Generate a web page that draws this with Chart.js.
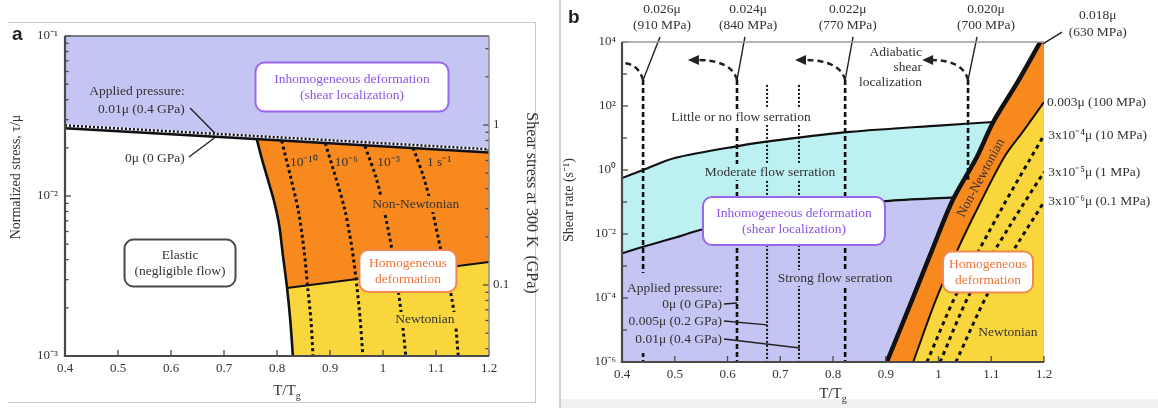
<!DOCTYPE html>
<html>
<head>
<meta charset="utf-8">
<script src="https://cdn.jsdelivr.net/npm/chart.js@4.4.1/dist/chart.umd.min.js"></script>
<style>
  html, body { margin: 0; padding: 0; background: #fff; }
  #page { position: relative; width: 1158px; height: 408px; overflow: hidden; background: #fff; }
  canvas { position: absolute; top: 0; }
  #ca { left: 0; }
  #cb { left: 560px; }
  .rule { position: absolute; }
  .tag { position: absolute; font: bold 19px 'Liberation Sans', Arial, sans-serif; line-height: 1; color: #222; }
</style>
</head>
<body>
<div id="page">
  <div class="rule" style="left:8px;top:22px;width:527px;height:379px;border-top:1.5px solid #cacaca;border-right:1.5px solid #cacaca;border-bottom:1.5px solid #cacaca;"></div>
  <div class="rule" style="left:559px;top:0;width:1.5px;height:408px;background:#d0d0d0;"></div>
  <div class="rule" style="left:561px;top:399px;width:597px;height:9px;background:#f1f1f1;"></div>
  <canvas id="ca" width="540" height="408"></canvas>
  <canvas id="cb" width="598" height="408"></canvas>
  <div class="tag" style="left:12px;top:24px;">a</div>
  <div class="tag" style="left:568px;top:7px;">b</div>
</div>
<script>
// ---------------- Panel (a): normalized stress vs. T/Tg ----------------
const tempTicksA = [0.4, 0.5, 0.6, 0.7, 0.8, 0.9, 1.0, 1.1, 1.2];
const stressTicksA = [0.001, 0.002, 0.003, 0.004, 0.005, 0.006, 0.007, 0.008, 0.009,
                      0.01, 0.02, 0.03, 0.04, 0.05, 0.06, 0.07, 0.08, 0.09, 0.1];
const gpaTicksA = [0.04, 0.05, 0.06, 0.07, 0.08, 0.09, 0.1, 0.2, 0.3, 0.4, 0.5, 0.6, 0.7, 0.8, 0.9, 1, 2, 3];
const shearModulusGPa = 36;

// yield (localization) boundary at zero and at 0.01μ applied pressure
const yieldT = [0.4, 0.8, 1.2];
const yieldStress = [0.0265, 0.0223, 0.0187];
const yieldStressPressurized = [0.0276, 0.0233, 0.0196];

// elastic / viscous flow boundary
const elasticEdgeT = [0.762, 0.772, 0.783, 0.794, 0.804, 0.811, 0.819, 0.825, 0.830];
const elasticEdgeStress = [0.0226, 0.0168, 0.0126, 0.0094, 0.0066, 0.0043, 0.00266, 0.00168, 0.001];

// Newtonian / non-Newtonian boundary
const newtonianEdgeT = [0.819, 1.2];
const newtonianEdgeStress = [0.00266, 0.00387];

// constant strain-rate contours
const isoRateLabels = ['10⁻¹⁰', '10⁻⁶', '10⁻³', '1 s⁻¹'];
const isoRateTopStress = [0.0221, 0.0214, 0.0205, 0.01995];
const isoRateStress = [0.0130, 0.0082, 0.0046, 0.00266, 0.00168, 0.001];
const isoRateT = [
  [0.809, 0.826, 0.840, 0.851, 0.858, 0.864, 0.868],
  [0.891, 0.911, 0.928, 0.942, 0.951, 0.957, 0.962],
  [0.966, 0.987, 1.002, 1.017, 1.028, 1.036, 1.043],
  [1.057, 1.077, 1.093, 1.109, 1.126, 1.136, 1.142]
];

// ---------------- Panel (b): shear rate vs. T/Tg ----------------
const tempTicksB = [0.4, 0.5, 0.6, 0.7, 0.8, 0.9, 1.0, 1.1, 1.2];
const rateTicksB = [1e-6, 1e-5, 1e-4, 1e-3, 1e-2, 1e-1, 1, 10, 100, 1000, 1e4];

// inhomogeneous / homogeneous transition (0.018μ)
const transitionT = [0.902, 0.950, 0.988, 1.027, 1.073, 1.103, 1.149, 1.193];
const transitionRate = [1e-6, 8.7e-5, 3.2e-3, 0.115, 2.6, 30, 525, 1e4];

// 0.003μ (100 MPa) contour: non-Newtonian / Newtonian
const stress100MPaT = [0.952, 0.995, 1.036, 1.080, 1.125, 1.160, 1.2];
const stress100MPaRate = [1e-6, 8.7e-5, 3.2e-3, 0.1, 2.6, 15.8, 133];

// Newtonian iso-stress contours
const isoStressNames = ['3x10⁻⁴μ (10 MPa)', '3x10⁻⁵μ (1 MPa)', '3x10⁻⁶μ (0.1 MPa)'];
const isoStressT = [
  [0.978, 1.035, 1.120, 1.2],
  [1.003, 1.060, 1.135, 1.2],
  [1.033, 1.094, 1.150, 1.2]
];
const isoStressRate = [
  [1e-6, 1.45e-4, 0.063, 12.3],
  [1e-6, 1.45e-4, 0.0178, 0.87],
  [1e-6, 1.45e-4, 5.0e-3, 0.1]
];

// flow-serration boundaries
const serrationHighT = [0.4, 0.44, 0.5, 0.62, 0.7, 0.832, 1.0, 1.104];
const serrationHighRate = [0.56, 1.0, 2.37, 5.6, 8.7, 15.5, 24.5, 31.6];
const serrationLowT = [0.4, 0.44, 0.5, 0.548, 0.65, 0.75, 0.9, 1.03];
const serrationLowRate = [2.5e-3, 4.0e-3, 7.6e-3, 1.33e-2, 3.16e-2, 6.0e-2, 0.107, 0.14];

// stress at which localization sets in
const onsetStressNames = ['0.026μ', '0.024μ', '0.022μ', '0.020μ'];
const onsetStressMPa = ['(910 MPa)', '(840 MPa)', '(770 MPa)', '(700 MPa)'];
const onsetT = [0.44, 0.618, 0.823, 1.056];
const onsetTopRate = 646;
const onsetBottomRate = [1e-6, 1e-6, 1e-6, 0.5];
const pressureShiftT = [0.675, 0.7355];
const pressureShiftTopRate = 457;

// ---------------- styling ----------------
const SERIF = "'Liberation Serif', 'Times New Roman', serif";
const INK = '#333333';
const LAV = '#c5c5f3';
const ORANGE = '#f7891f';
const YELLOW = '#fad63d';
const CYAN = '#bdf0f0';
const PURPLE = '#8b55e3';
const ORANGE_TXT = '#f0733a';

const P = l => Math.pow(10, l);
const pts = (xs, ys) => xs.map((x, i) => ({ x, y: ys[i] }));
const font = (size, weight) => `${weight || ''} ${size}px ${SERIF}`.trim();
const SUP = { '-': '⁻', '0': '⁰', '1': '¹', '2': '²', '3': '³', '4': '⁴', '5': '⁵', '6': '⁶', '7': '⁷', '8': '⁸', '9': '⁹' };
const isDecade = v => { const l = Math.log10(v); return Math.abs(l - Math.round(l)) < 1e-9; };
const supPow = v => '10' + String(Math.round(Math.log10(v))).split('').map(c => SUP[c]).join('');
const fmtT = v => String(Math.round(v * 10) / 10);

function lineSet(data, opts) {
  return Object.assign({ data, yAxisID: 'y', fill: false, pointRadius: 0, borderColor: '#111',
                         borderWidth: 2, tension: 0 }, opts);
}
function areaSet(data, color, order) {
  return { data, yAxisID: 'y', fill: 'shape', backgroundColor: color, borderColor: 'rgba(0,0,0,0)',
           borderWidth: 0, pointRadius: 0, tension: 0, order };
}

function roundRect(ctx, x, y, w, h, r) {
  ctx.beginPath();
  ctx.moveTo(x + r, y);
  ctx.arcTo(x + w, y, x + w, y + h, r);
  ctx.arcTo(x + w, y + h, x, y + h, r);
  ctx.arcTo(x, y + h, x, y, r);
  ctx.arcTo(x, y, x + w, y, r);
  ctx.closePath();
}

// text, boxes, leader lines and arrows placed in data coordinates
function makeNotes(items) {
  return {
    id: 'notes',
    afterDatasetsDraw(chart) {
      const ctx = chart.ctx;
      const X = v => chart.scales.x.getPixelForValue(v);
      const Y = v => chart.scales.y.getPixelForValue(v);
      for (const n of items) {
        ctx.save();
        if (n.kind === 'blank') {
          ctx.fillStyle = n.color;
          const xa = X(n.x1), xb = X(n.x2), ya = Y(n.y1), yb = Y(n.y2);
          ctx.fillRect(Math.min(xa, xb), Math.min(ya, yb), Math.abs(xb - xa), Math.abs(yb - ya));
        } else if (n.kind === 'seg') {
          ctx.strokeStyle = n.color || '#222';
          ctx.lineWidth = n.width || 1.4;
          ctx.beginPath();
          ctx.moveTo(X(n.x1), Y(n.y1));
          ctx.lineTo(X(n.x2), Y(n.y2));
          ctx.stroke();
        } else if (n.kind === 'curl') {
          const x0 = X(n.x0), y0 = Y(n.y0), x1 = X(n.x1), y1 = Y(n.y1);
          ctx.strokeStyle = '#222';
          ctx.lineWidth = 2.5;
          ctx.setLineDash([6, 4]);
          ctx.beginPath();
          ctx.moveTo(x0, y0);
          ctx.quadraticCurveTo(x0 - 5, y1, n.head ? x1 + 8 : x1, y1);
          ctx.stroke();
          if (n.head) {
            ctx.setLineDash([]);
            ctx.fillStyle = '#222';
            ctx.beginPath();
            ctx.moveTo(x1, y1);
            ctx.lineTo(x1 + 11, y1 - 5);
            ctx.lineTo(x1 + 11, y1 + 5);
            ctx.closePath();
            ctx.fill();
          }
        } else if (n.kind === 'box') {
          const cx = X(n.x), cy = Y(n.y);
          roundRect(ctx, cx - n.w / 2, cy - n.h / 2, n.w, n.h, 9);
          ctx.fillStyle = '#fff';
          ctx.fill();
          ctx.lineWidth = 2;
          ctx.strokeStyle = n.edge;
          ctx.stroke();
          ctx.fillStyle = n.color;
          ctx.font = font(n.size || 13.5);
          ctx.textAlign = 'center';
          ctx.textBaseline = 'middle';
          const gap = n.gap || 16;
          n.lines.forEach((t, i) => ctx.fillText(t, cx, cy + (i - (n.lines.length - 1) / 2) * gap));
        } else if (n.kind === 'text' || n.kind === 'rot') {
          const cx = X(n.x), cy = Y(n.y);
          ctx.translate(cx, cy);
          if (n.angle) ctx.rotate(n.angle * Math.PI / 180);
          ctx.font = font(n.size || 13.5);
          ctx.textAlign = n.align || 'center';
          ctx.textBaseline = 'middle';
          if (n.bg) {
            const w = ctx.measureText(n.text).width;
            const left = n.align === 'right' ? -w : n.align === 'left' ? 0 : -w / 2;
            ctx.fillStyle = n.bg;
            ctx.fillRect(left - 3, -8, w + 6, 16);
          }
          ctx.fillStyle = n.color || INK;
          ctx.fillText(n.text, 0, 0);
        } else if (n.kind === 'title') {
          ctx.translate(n.px, n.py);
          if (n.angle) ctx.rotate(n.angle * Math.PI / 180);
          ctx.fillStyle = INK;
          ctx.textBaseline = 'alphabetic';
          ctx.textAlign = 'left';
          ctx.font = font(n.size);
          const w1 = ctx.measureText(n.text).width;
          let w2 = 0;
          if (n.sub) { ctx.font = font(n.size * 0.68); w2 = ctx.measureText(n.sub).width; }
          const start = -(w1 + w2) / 2;
          ctx.font = font(n.size);
          ctx.fillText(n.text, start, 0);
          if (n.sub) { ctx.font = font(n.size * 0.68); ctx.fillText(n.sub, start + w1, 4); }
        }
        ctx.restore();
      }
    }
  };
}

// plot frame and inward tick marks
function makeFrame(cfg) {
  return {
    id: 'frame',
    afterDraw(chart) {
      const ctx = chart.ctx, a = chart.chartArea;
      ctx.save();
      ctx.strokeStyle = '#4a4a4a';
      ctx.lineWidth = 1.3;
      for (const [id, side] of cfg.ticks) {
        const s = chart.scales[id];
        for (const t of s.ticks) {
          const p = s.getPixelForValue(t.value);
          const len = t.label ? cfg.major : cfg.minor;
          ctx.beginPath();
          if (side === 'bottom') { ctx.moveTo(p, a.bottom); ctx.lineTo(p, a.bottom - len); }
          else if (side === 'left') { ctx.moveTo(a.left, p); ctx.lineTo(a.left + len, p); }
          else { ctx.moveTo(a.right, p); ctx.lineTo(a.right - len, p); }
          ctx.stroke();
        }
      }
      for (const [side, color, w] of cfg.edges) {
        ctx.strokeStyle = color;
        ctx.lineWidth = w;
        ctx.beginPath();
        if (side === 'left') { ctx.moveTo(a.left, a.top); ctx.lineTo(a.left, a.bottom + w / 2); }
        if (side === 'bottom') { ctx.moveTo(a.left - w / 2, a.bottom); ctx.lineTo(a.right, a.bottom); }
        if (side === 'top') { ctx.moveTo(a.left, a.top); ctx.lineTo(a.right, a.top); }
        if (side === 'right') { ctx.moveTo(a.right, a.top); ctx.lineTo(a.right, a.bottom); }
        ctx.stroke();
      }
      ctx.restore();
    }
  };
}

function axisBase(extra) {
  return Object.assign({
    grid: { display: false, drawTicks: false },
    border: { display: false },
  }, extra);
}
const tickFont = { family: SERIF, size: 13 };

// ---------------- chart (a) ----------------
const orangeA = [...pts(elasticEdgeT, elasticEdgeStress), { x: 1.2, y: 0.001 },
                 { x: 1.2, y: yieldStress[2] }, { x: yieldT[1], y: yieldStress[1] }];
const yellowA = [...pts(newtonianEdgeT, newtonianEdgeStress), { x: 1.2, y: 0.001 },
                 ...pts(elasticEdgeT.slice(-3), elasticEdgeStress.slice(-3)).reverse()];
const lavA = [...pts(yieldT, yieldStress), { x: 1.2, y: 0.1 }, { x: 0.4, y: 0.1 }];

const datasetsA = [
  lineSet(pts(yieldT, yieldStressPressurized), { borderWidth: 2.4, borderDash: [2, 2], order: 1 }),
  lineSet(pts(yieldT, yieldStress), { borderWidth: 2.6, order: 1 }),
  lineSet(pts(elasticEdgeT, elasticEdgeStress), { borderWidth: 2.6, tension: 0.3, order: 1 }),
  lineSet(pts(newtonianEdgeT, newtonianEdgeStress), { borderWidth: 2, order: 1 }),
  lineSet(pts(yieldT, yieldStressPressurized), { borderColor: '#f4f4ff', borderWidth: 2.4, order: 2 }),
  ...isoRateT.map((ts, i) => lineSet(
    ts.map((t, j) => ({ x: t, y: j === 0 ? isoRateTopStress[i] : isoRateStress[j - 1] })),
    { borderWidth: 3, borderDash: [3, 3], tension: 0.3, order: 3 })),
  areaSet(yellowA, YELLOW, 11),
  areaSet(orangeA, ORANGE, 12),
  areaSet(lavA, LAV, 13)
];

const isoRateLabelT = [0.8245, 0.909, 0.989, 1.083];
const notesA = [
  ...isoRateLabels.map((t, i) => ({ kind: 'text', x: isoRateLabelT[i], y: 0.0163, text: t, align: 'left' })),
  { kind: 'text', x: 1.062, y: 0.0089, text: 'Non-Newtonian', bg: ORANGE },
  { kind: 'text', x: 1.079, y: 0.00168, text: 'Newtonian', bg: YELLOW },
  { kind: 'box', x: 1.047, y: 0.0034, w: 97, h: 42, edge: '#f2884e', color: ORANGE_TXT,
    lines: ['Homogeneous', 'deformation'] },
  { kind: 'box', x: 0.617, y: 0.00381, w: 111, h: 47, edge: '#4a4a4a', color: INK,
    lines: ['Elastic', '(negligible flow)'] },
  { kind: 'box', x: 0.9415, y: 0.048, w: 193, h: 49, edge: '#9a66ee', color: PURPLE,
    lines: ['Inhomogeneous deformation', '(shear localization)'] },
  { kind: 'text', x: 0.626, y: 0.0447, text: 'Applied pressure:', align: 'right' },
  { kind: 'text', x: 0.626, y: 0.0345, text: '0.01μ (0.4 GPa)', align: 'right' },
  { kind: 'seg', x1: 0.636, y1: 0.0355, x2: 0.683, y2: 0.0247 },
  { kind: 'text', x: 0.626, y: 0.01728, text: '0μ (0 GPa)', align: 'right' },
  { kind: 'seg', x1: 0.634, y1: 0.01754, x2: 0.683, y2: 0.0232 },
  { kind: 'title', px: 20, py: 177, angle: -90, size: 14, text: 'Normalized stress, τ/μ' },
  { kind: 'title', px: 527, py: 203, angle: 90, size: 16, text: 'Shear stress at 300 K  (GPa)' },
  { kind: 'title', px: 287, py: 395, size: 15, text: 'T/T', sub: 'g' }
];

new Chart(document.getElementById('ca'), {
  type: 'line',
  data: { datasets: datasetsA },
  options: {
    responsive: false, animation: false, devicePixelRatio: 1,
    layout: { padding: { top: 36, right: 0, bottom: 0, left: 0 } },
    plugins: { legend: { display: false }, tooltip: { enabled: false } },
    scales: {
      x: axisBase({
        type: 'linear', min: 0.4, max: 1.2,
        afterBuildTicks: s => { s.ticks = tempTicksA.map(v => ({ value: v })); },
        afterFit: s => { s.height = 52; },
        ticks: { padding: 5, color: INK, font: tickFont, maxRotation: 0, autoSkip: false, callback: v => fmtT(v) }
      }),
      y: axisBase({
        type: 'logarithmic', min: 0.001, max: 0.1,
        afterBuildTicks: s => { s.ticks = stressTicksA.map(v => ({ value: v })); },
        afterFit: s => { s.width = 65; },
        ticks: { padding: 7, color: INK, font: tickFont, autoSkip: false, callback: v => isDecade(v) ? supPow(v) : '' }
      }),
      y2: axisBase({
        type: 'logarithmic', position: 'right',
        min: 0.001 * shearModulusGPa, max: 0.1 * shearModulusGPa,
        afterBuildTicks: s => { s.ticks = gpaTicksA.map(v => ({ value: v })); },
        afterFit: s => { s.width = 51; },
        ticks: { padding: 4, color: INK, font: tickFont, autoSkip: false,
                 callback: v => (v === 1 ? '1' : v === 0.1 ? '0.1' : '') }
      })
    }
  },
  plugins: [makeNotes(notesA), makeFrame({
    ticks: [['x', 'bottom'], ['y', 'left'], ['y2', 'right']], major: 6, minor: 3.5,
    edges: [['top', '#5a5a5a', 1.6], ['right', '#8a8a8a', 1.4], ['left', '#4a4a4a', 2.2], ['bottom', '#4a4a4a', 2.2]]
  })]
});

// ---------------- chart (b) ----------------
const lavB = [{ x: 0.4, y: 1e-6 }, ...pts(serrationLowT, serrationLowRate), { x: 1.2, y: 0.2 }, { x: 1.2, y: 1e-6 }];
const cyanB = [...pts(serrationLowT, serrationLowRate), { x: 1.2, y: 0.2 }, { x: 1.2, y: 40 },
               ...pts(serrationHighT, serrationHighRate).reverse()];
const orangeB = [...pts(transitionT, transitionRate), { x: 1.2, y: 1e4 }, { x: 1.2, y: 1e-6 }];
const yellowB = [...pts(stress100MPaT, stress100MPaRate), { x: 1.2, y: 1e-6 }];

const datasetsB = [
  lineSet(pts(transitionT, transitionRate), { borderWidth: 4.5, tension: 0.3, order: 1 }),
  lineSet(pts(stress100MPaT, stress100MPaRate), { borderWidth: 2, tension: 0.3, order: 2 }),
  ...isoStressT.map((ts, i) => lineSet(pts(ts, isoStressRate[i]),
    { borderWidth: 3, borderDash: [4, 4], tension: 0.3, order: 3 })),
  lineSet(pts(serrationHighT, serrationHighRate), { borderWidth: 2.2, tension: 0.3, order: 3 }),
  lineSet(pts(serrationLowT, serrationLowRate), { borderWidth: 2.2, tension: 0.3, order: 3 }),
  ...onsetT.map((t, i) => lineSet([{ x: t, y: onsetTopRate }, { x: t, y: onsetBottomRate[i] }],
    { borderWidth: 2.6, borderDash: [5, 3], order: 4 })),
  ...pressureShiftT.map(t => lineSet([{ x: t, y: pressureShiftTopRate }, { x: t, y: 1e-6 }],
    { borderWidth: 2, borderDash: [2, 2], order: 4 })),
  areaSet(yellowB, YELLOW, 11),
  areaSet(orangeB, ORANGE, 12),
  areaSet(cyanB, CYAN, 13),
  areaSet(lavB, LAV, 14)
];

const onsetLabelT = [0.4758, 0.639, 0.828, 1.090];
const onsetLeaderTopT = [0.472, 0.633, 0.838, 1.073];
const onsetArrowTipT = [0.4, 0.525, 0.728, 0.969];
const isoStressLabelRate = [P(1.094), P(-0.0625), P(-0.97)];
const notesB = [
  ...onsetStressNames.map((t, i) => ({ kind: 'text', x: onsetLabelT[i], y: P(5.02), text: t })),
  ...onsetStressMPa.map((t, i) => ({ kind: 'text', x: onsetLabelT[i], y: P(4.52), text: t })),
  ...onsetT.map((t, i) => ({ kind: 'seg', x1: onsetLeaderTopT[i], y1: P(4.16), x2: t, y2: onsetTopRate })),
  ...onsetT.map((t, i) => ({ kind: 'curl', x0: t, y0: onsetTopRate, x1: onsetArrowTipT[i],
                            y1: i === 0 ? P(3.34) : P(3.44), head: i > 0 })),
  { kind: 'text', x: 1.302, y: P(4.84), text: '0.018μ' },
  { kind: 'text', x: 1.302, y: P(4.31), text: '(630 MPa)' },
  { kind: 'seg', x1: 1.234, y1: P(4.31), x2: 1.198, y2: P(3.94) },
  { kind: 'text', x: 1.2057, y: P(2.125), text: '0.003μ (100 MPa)', align: 'left' },
  ...isoStressNames.map((t, i) => ({ kind: 'text', x: 1.208, y: isoStressLabelRate[i], text: t, align: 'left' })),
  { kind: 'text', x: 0.6256, y: P(1.656), text: 'Little or no flow serration', bg: '#fff' },
  { kind: 'text', x: 0.6806, y: P(-0.0625), text: 'Moderate flow serration', bg: CYAN },
  { kind: 'text', x: 0.804, y: P(-3.375), text: 'Strong flow serration', bg: LAV },
  { kind: 'text', x: 0.9687, y: P(3.6875), text: 'Adiabatic', align: 'right' },
  { kind: 'text', x: 0.9687, y: P(3.22), text: 'shear', align: 'right' },
  { kind: 'text', x: 0.9687, y: P(2.75), text: 'localization', align: 'right' },
  { kind: 'rot', x: 1.0806, y: P(-0.25), angle: -62, text: 'Non-Newtonian' },
  { kind: 'box', x: 0.726, y: P(-1.594), w: 182, h: 48, edge: '#9a66ee', color: PURPLE,
    lines: ['Inhomogeneous deformation', '(shear localization)'] },
  { kind: 'box', x: 1.0938, y: P(-3.1875), w: 90, h: 41, edge: '#f2884e', color: ORANGE_TXT,
    lines: ['Homogeneous', 'deformation'] },
  { kind: 'text', x: 1.1317, y: P(-5.0625), text: 'Newtonian', bg: YELLOW },
  { kind: 'blank', x1: 0.428, x2: 0.452, y1: P(-3.22), y2: P(-5.72), color: LAV },
  { kind: 'text', x: 0.4095, y: P(-3.6875), text: 'Applied pressure:', align: 'left', bg: LAV },
  { kind: 'text', x: 0.5896, y: P(-4.1875), text: '0μ (0 GPa)', align: 'right', bg: LAV },
  { kind: 'text', x: 0.5896, y: P(-4.72), text: '0.005μ (0.2 GPa)', align: 'right', bg: LAV },
  { kind: 'text', x: 0.5896, y: P(-5.28), text: '0.01μ (0.4 GPa)', align: 'right', bg: LAV },
  { kind: 'seg', x1: 0.5934, y1: P(-4.1875), x2: 0.618, y2: P(-4.156) },
  { kind: 'seg', x1: 0.5934, y1: P(-4.72), x2: 0.675, y2: P(-4.84) },
  { kind: 'seg', x1: 0.5934, y1: P(-5.28), x2: 0.7374, y2: P(-5.5625) },
  { kind: 'title', px: 13, py: 200, angle: -90, size: 14, text: 'Shear rate (s⁻¹)' },
  { kind: 'title', px: 273, py: 398, size: 15, text: 'T/T', sub: 'g' }
];

new Chart(document.getElementById('cb'), {
  type: 'line',
  data: { datasets: datasetsB },
  options: {
    responsive: false, animation: false, devicePixelRatio: 1,
    layout: { padding: { top: 42, right: 114, bottom: 0, left: 0 } },
    plugins: { legend: { display: false }, tooltip: { enabled: false } },
    scales: {
      x: axisBase({
        type: 'linear', min: 0.4, max: 1.2,
        afterBuildTicks: s => { s.ticks = tempTicksB.map(v => ({ value: v })); },
        afterFit: s => { s.height = 46; },
        ticks: { padding: 5, color: INK, font: tickFont, maxRotation: 0, autoSkip: false, callback: v => fmtT(v) }
      }),
      y: axisBase({
        type: 'logarithmic', min: 1e-6, max: 1e4,
        afterBuildTicks: s => { s.ticks = rateTicksB.map(v => ({ value: v })); },
        afterFit: s => { s.width = 62; },
        ticks: { padding: 6, color: INK, font: tickFont, autoSkip: false,
                 callback: v => (isDecade(v) && Math.round(Math.log10(v)) % 2 === 0 ? supPow(v) : '') }
      })
    }
  },
  plugins: [makeNotes(notesB), makeFrame({
    ticks: [['x', 'bottom'], ['y', 'left']], major: 6, minor: 5,
    edges: [['top', '#9a9a9a', 1.6], ['left', '#4a4a4a', 2.2], ['bottom', '#4a4a4a', 2.2]]
  })]
});
</script>
</body>
</html>
